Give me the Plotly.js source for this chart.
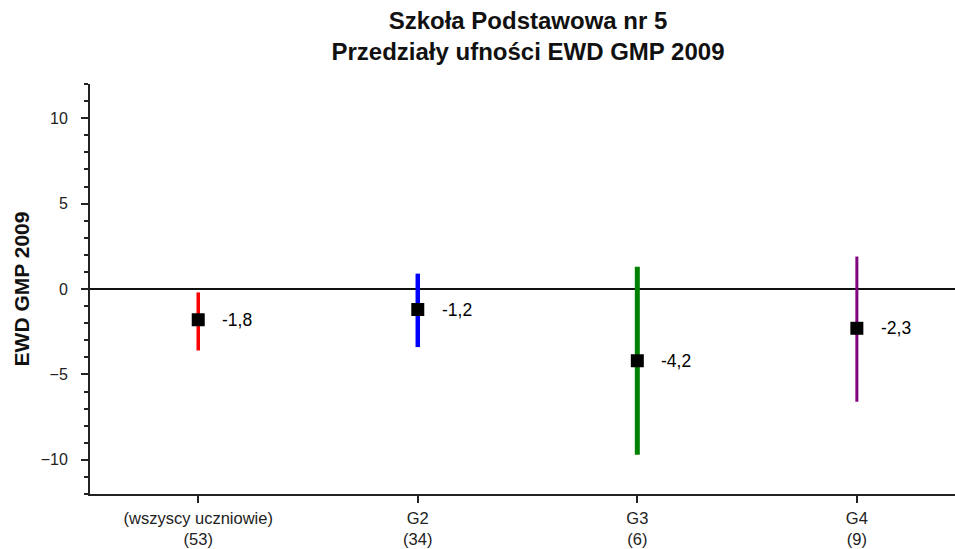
<!DOCTYPE html>
<html>
<head>
<meta charset="utf-8">
<script src="https://cdn.plot.ly/plotly-3.0.1.min.js"></script>
<style>
html,body{margin:0;padding:0;background:#fff;}
#chart{width:955px;height:549px;}
</style>
</head>
<body>
<div id="chart"></div>
<script>
// ---- data ----
const categories = ["(wszyscy uczniowie)", "G2", "G3", "G4"];
const counts = ["(53)", "(34)", "(6)", "(9)"];
const means = [-1.8, -1.2, -4.2, -2.3];
const lower = [-3.6, -3.4, -9.7, -6.6];
const upper = [-0.2, 0.9, 1.3, 1.9];
const colors = ["#ff0000", "#0000ff", "#008000", "#800080"];
const thickness = [3.5, 4.5, 5, 3];

const yTickVals = [-10, -5, 0, 5, 10];

const FONT = "'Liberation Sans', Arial, sans-serif";
const idx = categories.map((c, i) => i);
const tickText = categories.map((c, i) => c + "<br>" + counts[i]);
const fmt = v => v.toFixed(1).replace(".", ",");

const traces = categories.map((c, i) => ({
  type: "scatter",
  mode: "markers",
  x: [idx[i]],
  y: [means[i]],
  xaxis: "x",
  yaxis: "y",
  marker: {symbol: "square", size: 13, color: "#000"},
  error_y: {
    type: "data",
    symmetric: false,
    array: [upper[i] - means[i]],
    arrayminus: [means[i] - lower[i]],
    color: colors[i],
    thickness: thickness[i],
    width: 0
  },
  showlegend: false,
  hoverinfo: "skip"
}));

const annotations = categories.map((c, i) => ({
  x: idx[i],
  y: means[i],
  xref: "x",
  yref: "y",
  text: fmt(means[i]),
  showarrow: false,
  xanchor: "left",
  yanchor: "middle",
  xshift: 22,
  font: {family: FONT, size: 17.5, color: "#000"}
}));

const xr = [-0.493, 3.447];
const yr = [-12, 12];
const axisColor = "#222";

const layout = {
  width: 955,
  height: 549,
  margin: {l: 90, r: 0, t: 84, b: 55},
  paper_bgcolor: "#fff",
  plot_bgcolor: "#fff",
  font: {family: FONT, color: "#000"},
  showlegend: false,
  title: {
    text: "<b>Szkoła Podstawowa nr 5<br>Przedziały ufności EWD GMP 2009</b>",
    font: {family: FONT, size: 24, color: "#111"},
    xref: "container",
    yref: "container",
    x: 528 / 955,
    xanchor: "center",
    y: 1 - 29 / 549,
    yanchor: "top"
  },
  xaxis: {
    type: "linear",
    range: xr,
    tickvals: idx,
    ticktext: tickText,
    ticks: "outside",
    ticklen: 7,
    tickwidth: 2,
    tickcolor: axisColor,
    showline: true,
    linecolor: axisColor,
    linewidth: 2,
    showgrid: false,
    zeroline: false,
    tickfont: {family: FONT, size: 16.5, color: "#222"},
    ticklabelstandoff: 1,
    fixedrange: true
  },
  xaxis2: {
    type: "linear",
    overlaying: "x",
    anchor: "y",
    side: "bottom",
    range: xr,
    tickvals: idx,
    ticktext: tickText,
    showticklabels: false,
    ticks: "inside",
    ticklen: 7,
    tickwidth: 2,
    tickcolor: axisColor,
    showline: true,
    linecolor: axisColor,
    linewidth: 2,
    mirror: "ticks",
    showgrid: false,
    zeroline: false,
    fixedrange: true
  },
  yaxis: {
    range: yr,
    tickvals: yTickVals,
    ticks: "outside",
    ticklen: 7,
    tickwidth: 2,
    tickcolor: axisColor,
    minor: {ticks: "outside", ticklen: 4, tickwidth: 2, tickcolor: axisColor, dtick: 1, showgrid: false},
    showline: true,
    linecolor: axisColor,
    linewidth: 2,
    showgrid: false,
    zeroline: true,
    zerolinecolor: "#111",
    zerolinewidth: 1.5,
    tickfont: {family: FONT, size: 16, color: "#222"},
    ticklabelstandoff: 10,
    title: {
      text: "<b>EWD GMP 2009</b>",
      font: {family: FONT, size: 21, color: "#111"},
      standoff: 5
    },
    fixedrange: true
  },
  yaxis2: {
    overlaying: "y",
    anchor: "x",
    side: "left",
    range: yr,
    tickvals: yTickVals,
    showticklabels: false,
    ticks: "inside",
    ticklen: 7,
    tickwidth: 2,
    tickcolor: axisColor,
    minor: {ticks: "inside", ticklen: 4, tickwidth: 2, tickcolor: axisColor, dtick: 1, showgrid: false},
    showline: false,
    showgrid: false,
    zeroline: false,
    fixedrange: true
  },
  annotations: annotations
};

Plotly.newPlot("chart", traces, layout, {displayModeBar: false, staticPlot: true});
</script>
</body>
</html>
